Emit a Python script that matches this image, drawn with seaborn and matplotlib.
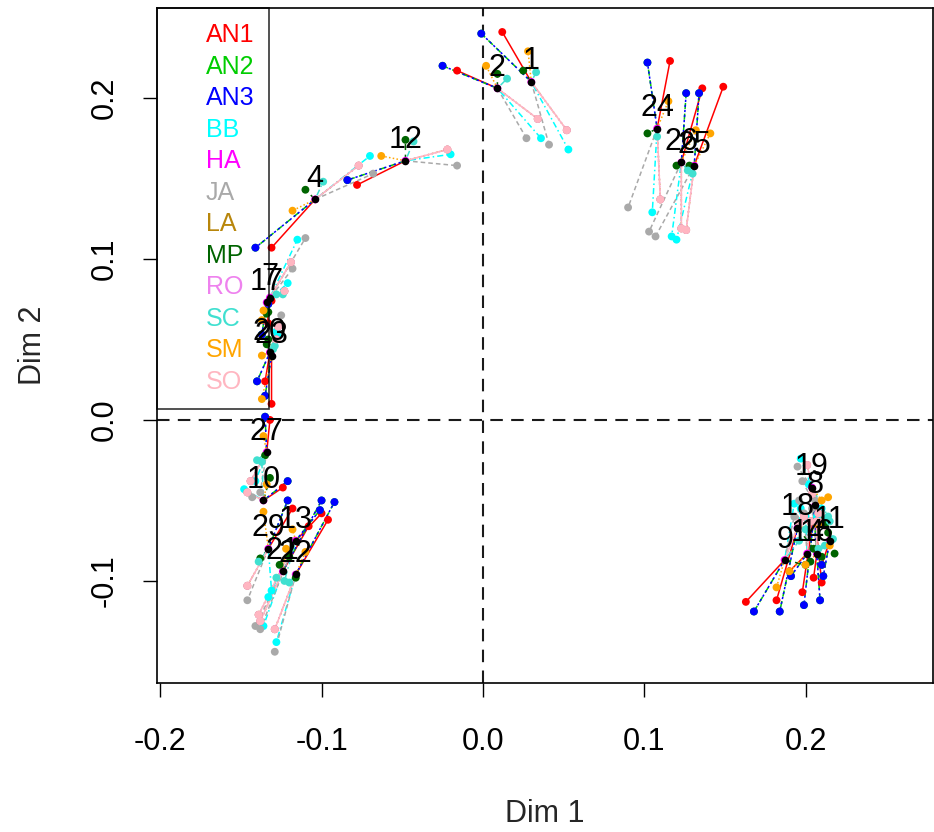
import numpy as np
import pandas as pd
import matplotlib
matplotlib.use("Agg")
import matplotlib.pyplot as plt
import seaborn as sns
from matplotlib.lines import Line2D

# ---------------- data ----------------
groups = ["AN1", "AN2", "AN3", "BB", "HA", "JA", "LA", "MP", "RO", "SC", "SM", "SO"]
group_colors = ["red", "#00CD00", "blue", "cyan", "magenta", "darkgray",
                "darkgoldenrod", "darkgreen", "violet", "turquoise", "orange", "lightpink"]

individuals = ["1", "2", "24", "26", "25", "12", "4", "7", "17", "20", "23", "27",
               "10", "29", "13", "22", "21", "19", "8", "18", "11", "9", "14", "16"]
center_x = [0.030, 0.009, 0.108, 0.123, 0.131, -0.048, -0.104, -0.132, -0.134, -0.132, -0.131, -0.134,
            -0.136, -0.133, -0.116, -0.116, -0.124, 0.204, 0.206, 0.195, 0.215, 0.187, 0.201, 0.207]
center_y = [0.210, 0.206, 0.181, 0.160, 0.158, 0.161, 0.137, 0.076, 0.073, 0.042, 0.040, -0.020,
            -0.050, -0.080, -0.075, -0.096, -0.094, -0.042, -0.053, -0.067, -0.075, -0.087, -0.083, -0.083]

AN1_x = [0.012, -0.016, 0.116, 0.136, 0.149, -0.078, -0.131, -0.131, -0.133, -0.135, -0.131, -0.132,
         -0.124, -0.118, -0.100, -0.096, -0.108, 0.210, 0.198, 0.182, 0.210, 0.163, 0.190, 0.205]
AN1_y = [0.241, 0.217, 0.223, 0.206, 0.207, 0.146, 0.107, 0.074, 0.060, 0.024, 0.010, 0.000,
         -0.042, -0.055, -0.058, -0.062, -0.066, -0.101, -0.107, -0.112, -0.090, -0.113, -0.094, -0.098]
AN2_x = [-0.001, -0.025, 0.102, 0.126, 0.134, -0.084, -0.141, -0.133, -0.137, -0.140, -0.135, -0.135,
         -0.121, -0.121, -0.101, -0.092, -0.100, 0.209, 0.199, 0.184, 0.211, 0.168, 0.191, 0.210]
AN2_y = [0.240, 0.220, 0.222, 0.203, 0.203, 0.149, 0.107, 0.072, 0.053, 0.024, 0.015, 0.002,
         -0.038, -0.050, -0.056, -0.051, -0.050, -0.112, -0.115, -0.119, -0.097, -0.119, -0.097, -0.090]
AN3_x = [-0.001, -0.025, 0.102, 0.126, 0.134, -0.084, -0.141, -0.133, -0.137, -0.140, -0.135, -0.135,
         -0.121, -0.121, -0.101, -0.092, -0.100, 0.209, 0.199, 0.184, 0.211, 0.168, 0.191, 0.210]
AN3_y = [0.240, 0.220, 0.222, 0.203, 0.203, 0.149, 0.107, 0.072, 0.053, 0.024, 0.015, 0.002,
         -0.038, -0.050, -0.056, -0.051, -0.050, -0.112, -0.115, -0.119, -0.097, -0.119, -0.097, -0.090]
BB_x = [0.053, 0.036, 0.105, 0.117, 0.120, -0.020, -0.070, -0.115, -0.121, -0.128, -0.127, -0.141,
        -0.148, -0.131, -0.133, -0.128, -0.136, 0.197, 0.202, 0.197, 0.210, 0.193, 0.200, 0.207]
BB_y = [0.168, 0.175, 0.129, 0.114, 0.112, 0.165, 0.164, 0.112, 0.085, 0.055, 0.052, -0.038,
        -0.043, -0.106, -0.110, -0.138, -0.128, -0.024, -0.040, -0.055, -0.055, -0.052, -0.060, -0.060]
HA_x = [0.030, 0.009, 0.108, 0.123, 0.131, -0.048, -0.104, -0.132, -0.134, -0.132, -0.131, -0.134,
        -0.136, -0.133, -0.116, -0.116, -0.124, 0.204, 0.206, 0.195, 0.215, 0.187, 0.201, 0.207]
HA_y = [0.210, 0.206, 0.181, 0.160, 0.158, 0.161, 0.137, 0.076, 0.073, 0.042, 0.040, -0.020,
        -0.050, -0.080, -0.075, -0.096, -0.094, -0.042, -0.053, -0.067, -0.075, -0.087, -0.083, -0.083]
JA_x = [0.041, 0.027, 0.090, 0.103, 0.107, -0.016, -0.068, -0.110, -0.118, -0.126, -0.125, -0.138,
        -0.143, -0.146, -0.138, -0.129, -0.141, 0.195, 0.198, 0.196, 0.206, 0.193, 0.199, 0.204]
JA_y = [0.171, 0.175, 0.132, 0.117, 0.114, 0.158, 0.153, 0.113, 0.094, 0.060, 0.065, -0.045,
        -0.048, -0.112, -0.130, -0.144, -0.128, -0.029, -0.038, -0.050, -0.050, -0.060, -0.058, -0.055]
LA_x = [0.052, 0.034, 0.110, 0.123, 0.126, -0.022, -0.077, -0.119, -0.123, -0.127, -0.128, -0.144,
        -0.146, -0.146, -0.139, -0.129, -0.138, 0.201, 0.204, 0.199, 0.208, 0.196, 0.203, 0.207]
LA_y = [0.180, 0.187, 0.137, 0.119, 0.118, 0.168, 0.158, 0.098, 0.080, 0.058, 0.050, -0.038,
        -0.045, -0.103, -0.121, -0.130, -0.125, -0.028, -0.046, -0.060, -0.058, -0.064, -0.063, -0.063]
MP_x = [0.025, 0.009, 0.102, 0.120, 0.128, -0.048, -0.110, -0.133, -0.134, -0.134, -0.133, -0.135,
        -0.132, -0.138, -0.120, -0.116, -0.126, 0.212, 0.214, 0.205, 0.218, 0.200, 0.203, 0.210]
MP_y = [0.217, 0.215, 0.178, 0.158, 0.158, 0.174, 0.143, 0.067, 0.066, 0.047, 0.050, -0.022,
        -0.036, -0.086, -0.085, -0.098, -0.090, -0.065, -0.070, -0.080, -0.083, -0.090, -0.088, -0.085]
RO_x = [0.052, 0.034, 0.110, 0.123, 0.126, -0.022, -0.077, -0.119, -0.123, -0.127, -0.128, -0.144,
        -0.146, -0.146, -0.139, -0.129, -0.138, 0.201, 0.204, 0.199, 0.208, 0.196, 0.203, 0.207]
RO_y = [0.180, 0.187, 0.137, 0.119, 0.118, 0.168, 0.158, 0.098, 0.080, 0.058, 0.050, -0.038,
        -0.045, -0.103, -0.121, -0.130, -0.125, -0.028, -0.046, -0.060, -0.058, -0.064, -0.063, -0.063]
SC_x = [0.033, 0.015, 0.108, 0.127, 0.130, -0.043, -0.099, -0.124, -0.128, -0.130, -0.129, -0.140,
        -0.137, -0.139, -0.123, -0.120, -0.128, 0.214, 0.215, 0.200, 0.217, 0.196, 0.208, 0.212]
SC_y = [0.216, 0.212, 0.176, 0.155, 0.153, 0.173, 0.148, 0.078, 0.078, 0.044, 0.046, -0.025,
        -0.026, -0.088, -0.100, -0.101, -0.098, -0.060, -0.063, -0.068, -0.074, -0.075, -0.080, -0.078]
SM_x = [0.028, 0.002, 0.115, 0.132, 0.141, -0.063, -0.118, -0.136, -0.137, -0.137, -0.137, -0.136,
        -0.134, -0.136, -0.118, -0.110, -0.122, 0.210, 0.214, 0.208, 0.215, 0.182, 0.190, 0.200]
SM_y = [0.229, 0.220, 0.198, 0.180, 0.178, 0.164, 0.130, 0.068, 0.062, 0.040, 0.013, -0.010,
        -0.040, -0.057, -0.068, -0.082, -0.080, -0.050, -0.048, -0.065, -0.078, -0.104, -0.094, -0.090]
SO_x = [0.052, 0.034, 0.110, 0.123, 0.126, -0.022, -0.077, -0.119, -0.123, -0.127, -0.128, -0.144,
        -0.146, -0.146, -0.139, -0.129, -0.138, 0.201, 0.204, 0.199, 0.208, 0.196, 0.203, 0.207]
SO_y = [0.180, 0.187, 0.137, 0.119, 0.118, 0.168, 0.158, 0.098, 0.080, 0.058, 0.050, -0.038,
        -0.045, -0.103, -0.121, -0.130, -0.125, -0.028, -0.046, -0.060, -0.058, -0.064, -0.063, -0.063]

x_ticks = [-0.2, -0.1, 0.0, 0.1, 0.2]
y_ticks = [-0.1, 0.0, 0.1, 0.2]

# ---------------- build tables ----------------
partial_x = [AN1_x, AN2_x, AN3_x, BB_x, HA_x, JA_x, LA_x, MP_x, RO_x, SC_x, SM_x, SO_x]
partial_y = [AN1_y, AN2_y, AN3_y, BB_y, HA_y, JA_y, LA_y, MP_y, RO_y, SC_y, SM_y, SO_y]
rows = []
for g, xs, ys in zip(groups, partial_x, partial_y):
    for ind, cx, cy, px, py in zip(individuals, center_x, center_y, xs, ys):
        rows.append(dict(group=g, ind=ind, cx=cx, cy=cy, x=px, y=py))
df = pd.DataFrame(rows)
centers = pd.DataFrame(dict(ind=individuals, x=center_x, y=center_y))

line_styles = {
    "AN1": "-", "AN2": (0, (4, 3)), "AN3": (0, (1.5, 1.8)), "BB": (0, (1, 2, 4, 2)),
    "HA": (0, (6, 3)), "JA": (0, (3, 2)), "LA": (0, (1, 2)), "MP": (0, (4, 3)),
    "RO": (0, (1, 1.5)), "SC": (0, (1, 2, 4, 2)), "SM": (0, (1, 1.5)), "SO": "-",
}

# ---------------- figure ----------------
sns.set_style("white")
plt.rcParams["font.family"] = ["Liberation Sans", "DejaVu Sans"]

fig = plt.figure(figsize=(9.34, 8.32), dpi=100)
ax = fig.add_axes([157 / 934, 1 - 683 / 832, (933 - 157) / 934, (683 - 8) / 832])

# lines from each individual's centre to its partial points
for g, col in zip(groups, group_colors):
    sub = df[df.group == g]
    xs, ys = [], []
    for _, r in sub.iterrows():
        xs += [r.cx, r.x, np.nan]
        ys += [r.cy, r.y, np.nan]
    ax.plot(xs, ys, color=col, lw=1.1, linestyle=line_styles[g], zorder=2)

# partial points
sns.scatterplot(data=df, x="x", y="y", hue="group", hue_order=groups,
                palette=dict(zip(groups, group_colors)), s=32, linewidth=0,
                legend=False, ax=ax, zorder=3)
# centres
sns.scatterplot(data=centers, x="x", y="y", color="black", s=30, linewidth=0,
                legend=False, ax=ax, zorder=4)
for ind, cx, cy in zip(individuals, center_x, center_y):
    ax.annotate(ind, (cx, cy), xytext=(0, 9), textcoords="offset points",
                ha="center", va="baseline", fontsize=22, color="black", zorder=7)

# reference lines
ax.axhline(0, color="#1a1a1a", lw=1.5, linestyle=(0, (6, 4)), zorder=1)
ax.axvline(0, color="#1a1a1a", lw=1.5, linestyle=(0, (6, 4)), zorder=1)

ax.set_xlim(-0.202, 0.279)
ax.set_ylim(-0.1634, 0.2559)
ax.set_xticks(x_ticks)
ax.set_xticklabels([f"{v:.1f}" for v in x_ticks])
ax.set_yticks(y_ticks)
ax.set_yticklabels([f"{v:.1f}" for v in y_ticks], rotation=90, va="center")
ax.tick_params(axis="both", which="both", direction="out", length=10, width=1,
               colors="black", labelsize=22, bottom=True, left=True, top=False, right=False)
ax.tick_params(axis="x", pad=22)
ax.tick_params(axis="y", pad=17)
ax.set_xlabel("Dim 1", fontsize=22, labelpad=30)
ax.set_ylabel("Dim 2", fontsize=22, labelpad=30)
for sp in ax.spines.values():
    sp.set_visible(True)
    sp.set_color("black")
    sp.set_linewidth(1.2)

# legend (text only, coloured, transparent box)
handles = [Line2D([], [], linestyle="none", marker=None) for _ in groups]
leg = ax.legend(handles, groups, loc="upper left", bbox_to_anchor=(0, 1),
                borderaxespad=0, frameon=True, fancybox=False, edgecolor="black",
                fontsize=18, labelcolor=group_colors, handlelength=0.9,
                handletextpad=0.45, borderpad=0.6, labelspacing=0.3)
leg.get_frame().set_linewidth(1.2)
leg.get_frame().set_facecolor("none")
leg.set_zorder(6)

fig.savefig("out.png", dpi=100)
